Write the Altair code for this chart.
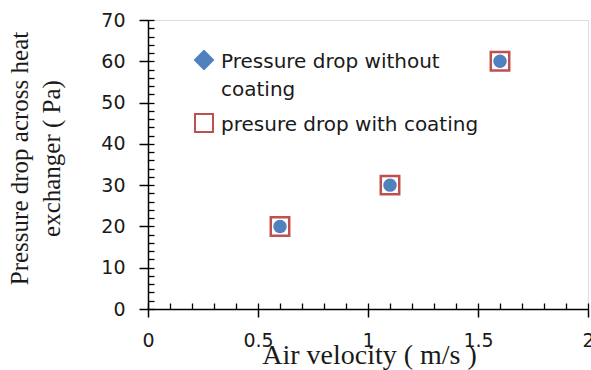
import altair as alt
import pandas as pd

# ---- data ----
air_velocity = [0.6, 1.1, 1.6]
dp_without_coating = [20, 30, 60]
dp_with_coating = [20, 30, 60]
series_names = ["Pressure drop without coating", "presure drop with coating"]

x_major = [0, 0.5, 1, 1.5, 2]
x_minor = [round(i * 0.1, 1) for i in range(21)]
y_major = [0, 10, 20, 30, 40, 50, 60, 70]
y_minor = list(range(0, 71, 2))

BLUE = "#4F81BD"
RED = "#C0504D"
TXT = "#1a1a1a"

# legend symbol shapes (unit box, drawn slightly raised so they sit level with the first text line)
DIAMOND_SYM = "M0,-1.89L1,-0.89L0,0.11L-1,-0.89Z"
SQUARE_SYM = "M-1,-1.89L1,-1.89L1,0.11L-1,0.11Z"

rows = []
for xv, yv in zip(air_velocity, dp_without_coating):
    rows.append({"x": xv, "y": yv, "series": series_names[0]})
for xv, yv in zip(air_velocity, dp_with_coating):
    rows.append({"x": xv, "y": yv, "series": series_names[1]})
df = pd.DataFrame(rows)

xscale = alt.Scale(domain=[0, 2], nice=False, zero=False)
yscale = alt.Scale(domain=[0, 70], nice=False, zero=False)

base = alt.Chart(df)

# red open squares (with coating) + major axes
with_layer = base.transform_filter(
    alt.datum.series == series_names[1]
).mark_point(shape="square", filled=False, size=340, strokeWidth=2.5, color=RED, opacity=1).encode(
    x=alt.X("x:Q", scale=xscale, axis=alt.Axis(
        orient="bottom", values=x_major, format="~g", tickSize=8, tickWidth=1.5, tickColor="black",
        domainColor="black", domainWidth=1.5, grid=False,
        labelFont="DejaVu Sans", labelFontSize=19, labelColor=TXT, labelPadding=14,
        labelFlush=False, labelOverlap=False,
        title="Air velocity ( m/s )", titleFont="Liberation Serif", titleFontSize=28,
        titleFontWeight="normal", titleColor=TXT, titleBaseline="alphabetic",
        titleX=221, titleY=54, titleAlign="center")),
    y=alt.Y("y:Q", scale=yscale, axis=alt.Axis(
        orient="left", values=y_major, tickSize=9, tickWidth=1.5, tickColor="black",
        domainColor="black", domainWidth=1.5, grid=False,
        labelFont="DejaVu Sans", labelFontSize=19, labelColor=TXT, labelPadding=14,
        labelFlush=False, labelOverlap=False,
        title=["Pressure drop across heat", "exchanger ( Pa)"],
        titleFont="Liberation Serif", titleFontSize=25, titleFontWeight="normal",
        titleColor=TXT, titleBaseline="alphabetic", titleAngle=270,
        titleLineHeight=32, titleX=-121, titleY=138, titleAlign="center")),
)

# blue filled markers (without coating) + minor inward ticks
without_layer = base.transform_filter(
    alt.datum.series == series_names[0]
).mark_point(shape="circle", filled=True, size=180, color=BLUE, opacity=1).encode(
    x=alt.X("x:Q", scale=xscale, axis=alt.Axis(
        orient="bottom", values=x_minor, tickSize=6, tickWidth=1.3, tickColor="black",
        offset=-6, domain=False, labels=False, grid=False, title=None)),
    y=alt.Y("y:Q", scale=yscale, axis=alt.Axis(
        orient="left", values=y_minor, tickSize=6, tickWidth=1.3, tickColor="black",
        offset=-6, domain=False, labels=False, grid=False, title=None)),
)

legend_def = alt.Legend(
    title=None, orient="none", legendX=46, legendY=38, padding=0,
    symbolSize=324, symbolStrokeWidth=2, labelFont="DejaVu Sans", labelFontSize=20,
    labelColor=TXT, labelOffset=7, labelBaseline="alphabetic", labelLimit=400,
    rowPadding=9,
    labelExpr="datum.label == 'Pressure drop without coating' ? ['Pressure drop without', 'coating'] : datum.label",
)

legend_layer = base.transform_filter("false").mark_point(filled=True, strokeWidth=2, opacity=1).encode(
    x=alt.X("x:Q", scale=xscale, axis=None),
    y=alt.Y("y:Q", scale=yscale, axis=None),
    shape=alt.Shape("series:N", scale=alt.Scale(domain=series_names, range=[DIAMOND_SYM, SQUARE_SYM]), legend=legend_def),
    fill=alt.Fill("series:N", scale=alt.Scale(domain=series_names, range=[BLUE, "transparent"]), legend=legend_def),
    stroke=alt.Stroke("series:N", scale=alt.Scale(domain=series_names, range=[BLUE, RED]), legend=legend_def),
)

chart = alt.layer(with_layer, without_layer, legend_layer).resolve_axis(
    x="independent", y="independent"
).properties(
    width=440, height=289,
    autosize=alt.AutoSizeParams(type="none"),
    padding={"left": 148, "top": 20, "right": 3, "bottom": 61},
    background="white",
).configure_view(
    stroke="black", strokeWidth=1.5
).configure(
    style={"guide-label": {"lineHeight": 28}}
)

chart.save("out.html", embed_options={"renderer": "svg", "actions": False})
